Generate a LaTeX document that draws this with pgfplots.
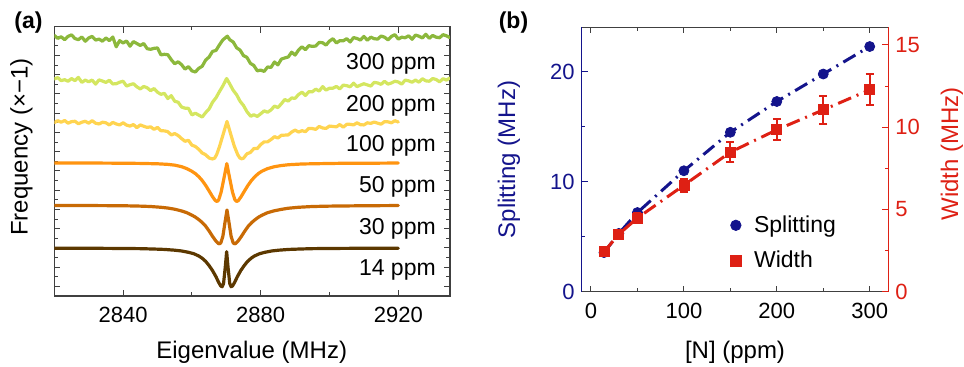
\documentclass[border=0pt]{standalone}
\usepackage{fontspec}
\setmainfont{Liberation Sans}
\usepackage{pgfplots}
\pgfplotsset{compat=1.18}
\definecolor{c300}{RGB}{140,184,60}
\definecolor{c200}{RGB}{212,230,96}
\definecolor{c100}{RGB}{255,212,80}
\definecolor{c50}{RGB}{255,148,16}
\definecolor{c30}{RGB}{200,106,5}
\definecolor{c14}{RGB}{92,56,0}
\definecolor{sblue}{RGB}{20,20,140}
\definecolor{wred}{RGB}{222,32,20}
\begin{document}
\begin{tikzpicture}
\path[use as bounding box] (0,0) rectangle (482pt,183.5pt);
% ---------------- panel (a)
\begin{axis}[
 at={(27.15pt,35.5pt)}, anchor=south west, scale only axis,
 width=197.8pt, height=134.7pt,
 xmin=2820, xmax=2935, ymin=-0.5, ymax=13.5,
 xtick={2840,2880,2920}, minor xtick={2860,2900},
 ytick={0,...,13}, minor ytick={0.5,1.5,...,12.5}, yticklabels={},
 tick align=inside, major tick length=3pt, minor tick length=1.8pt,
 axis line style={black!75, line width=0.6pt},
 every tick/.style={black!75, line width=0.5pt},
 ticklabel style={font=\fontsize{11}{13}\selectfont},
 /pgf/number format/assume math mode=true,
 /pgf/number format/1000 sep={},
 xticklabel style={yshift=-2pt},
 every axis plot/.append style={line width=1.6pt, line join=round, line cap=round},
]
\addplot[c300] coordinates {(2820,13.04)(2821,12.89)(2822,12.97)(2823,12.82)(2824,12.99)(2825,13.07)(2826,12.88)(2827,12.82)(2828,12.96)(2829,12.74)(2830,12.91)(2831,12.99)(2832,12.80)(2833,12.85)(2834,12.74)(2835,12.91)(2836,12.77)(2837,12.96)(2838,12.45)(2839,12.77)(2840,12.65)(2841,12.75)(2842,12.48)(2843,12.72)(2844,12.62)(2845,12.52)(2846,12.62)(2847,12.35)(2848,12.32)(2849,12.37)(2850,12.39)(2851,12.03)(2852,12.06)(2853,12.04)(2854,11.78)(2855,11.57)(2856,11.67)(2857,11.52)(2858,11.29)(2859,11.42)(2860,11.20)(2861,11.14)(2862,11.33)(2863,11.44)(2864,11.76)(2865,11.92)(2866,12.21)(2867,12.26)(2868,12.55)(2869,12.81)(2870.3,13.00)(2871,12.82)(2872,12.70)(2873,12.40)(2874,12.28)(2875,11.99)(2876,11.90)(2877,11.59)(2878,11.48)(2879,11.20)(2880,11.24)(2881,11.17)(2882,11.40)(2883,11.38)(2884,11.66)(2885,11.51)(2886,11.81)(2887,11.87)(2888,11.92)(2889,12.17)(2890,12.02)(2891,12.28)(2892,12.45)(2893,12.30)(2894,12.51)(2895,12.47)(2896,12.49)(2897,12.68)(2898,12.66)(2899,12.54)(2900,12.75)(2901,12.87)(2902,12.65)(2903,12.77)(2904,12.76)(2905,12.87)(2906,12.70)(2907,12.93)(2908,12.88)(2909,12.80)(2910,12.99)(2911,12.79)(2912,12.95)(2913,12.87)(2914,12.85)(2915,13.01)(2916,12.95)(2917,12.81)(2918,12.99)(2919,13.08)(2920,12.85)(2921,12.95)(2922,12.92)(2923,13.02)(2924,12.84)(2925,13.06)(2926,13.00)(2927,12.91)(2928,13.10)(2929,12.89)(2930,13.04)(2931,12.95)(2932,12.92)(2933,13.08)(2934,13.02)(2935,12.93)};
\addplot[c200] coordinates {(2820,10.78)(2821,10.85)(2822,10.69)(2823,10.74)(2824,10.66)(2825,10.80)(2826,10.69)(2827,10.86)(2828,10.60)(2829,10.72)(2830,10.63)(2831,10.72)(2832,10.51)(2833,10.73)(2834,10.67)(2835,10.60)(2836,10.71)(2837,10.52)(2838,10.53)(2839,10.61)(2840,10.66)(2841,10.41)(2842,10.48)(2843,10.53)(2844,10.37)(2845,10.26)(2846,10.39)(2847,10.32)(2848,10.17)(2849,10.28)(2850,10.09)(2851,9.98)(2852,10.03)(2853,9.76)(2854,9.91)(2855,9.62)(2856,9.57)(2857,9.32)(2858,9.26)(2859,9.25)(2860,8.91)(2861,9.00)(2862,8.90)(2863,8.80)(2864,9.03)(2865,9.22)(2866,9.57)(2867,9.80)(2868,10.12)(2869,10.42)(2870.1,10.80)(2871,10.52)(2872,10.19)(2873,9.96)(2874,9.62)(2875,9.40)(2876,9.08)(2877.1,8.84)(2878,8.92)(2879,8.83)(2880,8.97)(2881,9.12)(2882,9.05)(2883,9.17)(2884,9.37)(2885,9.29)(2886,9.49)(2887,9.71)(2888,9.63)(2889,9.79)(2890,9.77)(2891,9.97)(2892,10.09)(2893,9.92)(2894,10.12)(2895,10.11)(2896,10.25)(2897,10.15)(2898,10.38)(2899,10.20)(2900,10.30)(2901,10.30)(2902,10.39)(2903,10.26)(2904,10.46)(2905,10.43)(2906,10.37)(2907,10.56)(2908,10.38)(2909,10.46)(2910,10.53)(2911,10.47)(2912,10.41)(2913,10.60)(2914,10.57)(2915,10.50)(2916,10.66)(2917,10.51)(2918,10.57)(2919,10.66)(2920,10.62)(2921,10.51)(2922,10.72)(2923,10.68)(2924,10.61)(2925,10.72)(2926,10.61)(2927,10.79)(2928,10.68)(2929,10.66)(2930,10.80)(2931,10.75)(2932,10.63)(2933,10.79)(2934,10.72)(2935,10.83)};
\addplot[c100] coordinates {(2820,8.51)(2821,8.61)(2822,8.53)(2823,8.62)(2824,8.48)(2825,8.56)(2826,8.58)(2827,8.45)(2828,8.53)(2829,8.58)(2830,8.48)(2831,8.61)(2832,8.48)(2833,8.44)(2834,8.53)(2835,8.50)(2836,8.39)(2837,8.52)(2838,8.44)(2839,8.39)(2840,8.50)(2841,8.38)(2842,8.33)(2843,8.41)(2844,8.25)(2845,8.39)(2846,8.32)(2847,8.26)(2848,8.29)(2849,8.16)(2850,8.26)(2851,8.09)(2852,8.08)(2853,8.04)(2854,7.87)(2855,7.94)(2856,7.84)(2857,7.68)(2858,7.54)(2859,7.59)(2860,7.34)(2861,7.27)(2862,7.12)(2863,6.93)(2864,6.84)(2865,6.67)(2866,6.62)(2866.6,6.66)(2867.2,6.85)(2868,7.25)(2869,7.85)(2870.2,8.57)(2871.3,7.90)(2872.3,7.30)(2873.3,6.85)(2873.9,6.68)(2874.4,6.63)(2875,6.66)(2876,6.89)(2877,6.96)(2878,7.16)(2879,7.16)(2880,7.37)(2881,7.51)(2882,7.51)(2883,7.63)(2884,7.78)(2885,7.71)(2886,7.85)(2887,7.86)(2888,7.87)(2889,8.02)(2890,8.12)(2891,8.02)(2892,8.09)(2893,8.04)(2894,8.21)(2895,8.20)(2896,8.16)(2897,8.31)(2898,8.23)(2899,8.21)(2900,8.33)(2901,8.31)(2902,8.29)(2903,8.41)(2904,8.27)(2905,8.42)(2906,8.42)(2907,8.39)(2908,8.50)(2909,8.40)(2910,8.39)(2911,8.50)(2912,8.47)(2913,8.54)(2914,8.48)(2915,8.43)(2916,8.56)(2917,8.55)(2918,8.50)(2919,8.61)(2920,8.54)};
\addplot[c50] coordinates {(2820,6.41)(2830,6.41)(2840,6.40)(2845,6.39)(2850,6.37)(2853,6.34)(2855,6.30)(2857,6.22)(2858.5,6.12)(2860,5.98)(2861,5.86)(2862,5.70)(2863,5.50)(2864,5.25)(2865,4.96)(2866,4.66)(2866.8,4.46)(2867.3,4.41)(2867.8,4.50)(2868.5,4.90)(2869.3,5.60)(2870.15,6.38)(2871,5.60)(2871.8,4.90)(2872.5,4.50)(2873,4.41)(2873.5,4.46)(2874.3,4.66)(2875.3,4.96)(2876.3,5.25)(2877.3,5.50)(2878.3,5.70)(2879.3,5.86)(2880.3,5.98)(2882,6.12)(2884,6.22)(2886,6.28)(2888,6.32)(2892,6.36)(2898,6.38)(2905,6.40)(2912,6.40)(2920,6.41)};
\addplot[c30] coordinates {(2820,4.20)(2830,4.20)(2840,4.19)(2845,4.17)(2848,4.15)(2851,4.11)(2853,4.07)(2855,4.01)(2857,3.92)(2858.5,3.83)(2860,3.70)(2861,3.60)(2862,3.47)(2863,3.32)(2864,3.13)(2865,2.88)(2866,2.60)(2867,2.35)(2867.6,2.24)(2868,2.21)(2868.4,2.26)(2869,2.60)(2869.6,3.30)(2870.2,3.97)(2870.8,3.30)(2871.4,2.60)(2872,2.26)(2872.4,2.21)(2872.8,2.24)(2873.4,2.35)(2874.4,2.60)(2875.4,2.88)(2876.4,3.13)(2877.4,3.32)(2878.4,3.47)(2879.4,3.60)(2880.4,3.70)(2882,3.83)(2884,3.93)(2886,4.00)(2888,4.06)(2891,4.11)(2895,4.15)(2900,4.17)(2910,4.19)(2920,4.20)};
\addplot[c14] coordinates {(2820,1.98)(2830,1.98)(2840,1.97)(2845,1.96)(2849,1.94)(2852,1.92)(2855,1.88)(2857,1.84)(2859,1.77)(2860.5,1.70)(2862,1.58)(2863,1.46)(2864,1.30)(2865,1.08)(2866,0.82)(2867,0.50)(2867.8,0.20)(2868.4,0.02)(2868.8,-0.02)(2869.2,0.15)(2869.7,1.00)(2870.1,1.80)(2870.5,1.00)(2871.0,0.15)(2871.4,-0.02)(2871.8,0.02)(2872.4,0.20)(2873.2,0.50)(2874.2,0.82)(2875.2,1.08)(2876.2,1.30)(2877.2,1.46)(2878.2,1.58)(2879.7,1.70)(2881.2,1.77)(2883.2,1.84)(2885.2,1.88)(2888.2,1.92)(2891.2,1.94)(2895,1.96)(2900,1.97)(2910,1.98)(2920,1.98)};
\begin{scope}[every node/.style={anchor=base east, inner sep=0pt, font=\fontsize{11.5}{13}\selectfont}]
\node at (axis cs:2931,11.27) {300 ppm};
\node at (axis cs:2931,9.10) {200 ppm};
\node at (axis cs:2931,7.00) {100 ppm};
\node at (axis cs:2931,4.88) {50 ppm};
\node at (axis cs:2931,2.72) {30 ppm};
\node at (axis cs:2931,0.54) {14 ppm};
\end{scope}
\end{axis}
% ---------------- panel (b), left axis
\begin{axis}[
 at={(290.85pt,37.65pt)}, anchor=south west, scale only axis,
 width=153.3pt, height=132.2pt,
 xmin=-10, xmax=320, ymin=0, ymax=24.05,
 axis y line*=left,
 xtick={0,100,200,300}, minor xtick={50,150,250},
 ytick={0,10,20}, minor ytick={5,15},
 tick align=inside, major tick length=3pt, minor tick length=1.8pt,
 axis line style={black!75, line width=0.6pt},
 y axis line style={sblue, line width=0.6pt},
 every tick/.style={black!75, line width=0.5pt},
 ytick style={sblue},
 ticklabel style={font=\fontsize{11}{13}\selectfont},
 yticklabel style={sblue},
 xticklabel style={yshift=-2pt},
 /pgf/number format/assume math mode=true,
]
\addplot[sblue, line width=1.5pt, dash pattern=on 7pt off 3pt on 1pt off 3pt] coordinates {(14,3.56)(30,5.3)(50,7.2)(100,11.0)(150,14.5)(200,17.3)(250,19.8)(300,22.3)};
\addplot[only marks, mark=*, mark size=2.5pt, sblue] coordinates {(14,3.56)(30,5.3)(50,7.2)(100,11.0)(150,14.5)(200,17.3)(250,19.8)(300,22.3)};
\end{axis}
% ---------------- panel (b), right axis
\begin{axis}[
 at={(290.85pt,37.65pt)}, anchor=south west, scale only axis,
 width=153.3pt, height=132.2pt,
 xmin=-10, xmax=320, ymin=0, ymax=16.07,
 axis y line*=right, axis x line=none,
 ytick={0,5,10,15}, minor ytick={2.5,7.5,12.5},
 tick align=inside, major tick length=3pt, minor tick length=1.8pt,
 y axis line style={wred, line width=0.6pt},
 every tick/.style={wred, line width=0.5pt},
 ticklabel style={font=\fontsize{11}{13}\selectfont},
 yticklabel style={wred},
 /pgf/number format/assume math mode=true,
 legend style={at={(0.465,0.32)}, anchor=north west, draw=none, fill=none,
   font=\fontsize{11.5}{13}\selectfont, row sep=4pt,
   /tikz/every odd column/.append style={column sep=4.5pt}},
 legend cell align=left,
]
\addlegendimage{only marks, mark=*, mark size=2.6pt, sblue}
\addlegendentry{Splitting}
\addlegendimage{only marks, mark=square*, mark size=2.6pt, wred}
\addlegendentry{Width}
\addplot[wred, line width=1.5pt, dash pattern=on 7pt off 3pt on 1pt off 3pt, forget plot] coordinates {(14,2.42)(30,3.5)(50,4.48)(100,6.47)(150,8.48)(200,9.84)(250,11.05)(300,12.27)};
\addplot[only marks, mark=square*, mark size=2.5pt, wred, forget plot,
  error bars/.cd, y dir=both, y explicit,
  error bar style={line width=1pt, wred},
  error mark options={rotate=90, mark size=2pt, line width=1pt, wred}]
  coordinates {(14,2.42) +- (0,0.15) (30,3.5) +- (0,0.2) (50,4.48) +- (0,0.3) (100,6.47) +- (0,0.4) (150,8.48) +- (0,0.6) (200,9.84) +- (0,0.65) (250,11.05) +- (0,0.83) (300,12.27) +- (0,0.95)};
\end{axis}
% ---------------- labels
\node[rotate=90, font=\fontsize{12}{14}\selectfont] at (10.75pt,110pt) {Frequency (×−1)};
\node[font=\fontsize{12}{14}\selectfont] at (125.85pt,7.4pt) {Eigenvalue (MHz)};
\node[font=\fontsize{12}{14}\selectfont] at (367.5pt,7.2pt) {[N] (ppm)};
\node[rotate=90, font=\fontsize{12}{14}\selectfont, text=sblue] at (254.5pt,103.75pt) {Splitting (MHz)};
\node[rotate=90, font=\fontsize{12}{14}\selectfont, text=wred] at (476pt,106.5pt) {Width (MHz)};
\node[font=\bfseries\fontsize{11.5}{13}\selectfont] at (14.25pt,172pt) {(a)};
\node[font=\bfseries\fontsize{11.5}{13}\selectfont] at (256.75pt,172pt) {(b)};
\end{tikzpicture}
\end{document}
